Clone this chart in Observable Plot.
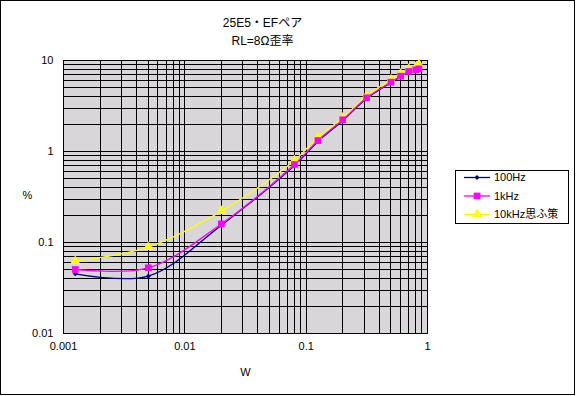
<!DOCTYPE html>
<html><head><meta charset="utf-8">
<script src="https://cdn.jsdelivr.net/npm/d3@7"></script>
<script src="https://cdn.jsdelivr.net/npm/@observablehq/plot@0.6"></script>
<style>
body{margin:0;background:#fff;}
svg{display:block;}
</style>
</head><body>
<div id="chart"></div>
<script>
const watts = [0.00125, 0.005, 0.02, 0.08, 0.125, 0.2, 0.315, 0.5, 0.6, 0.7, 0.8, 0.85];
const thd100 = [0.0453, 0.0427, 0.155, 0.70, 1.29, 2.18, 3.82, 5.7, 6.65, 7.5, 7.85, 8.05];
const thd1k  = [0.0505, 0.0527, 0.16, 0.72, 1.32, 2.23, 3.89, 5.78, 6.72, 7.57, 7.9, 8.1];
const thd10k = [0.0624, 0.089, 0.221, 0.796, 1.44, 2.34, 4.12, 6.14, 7.14, 8.1, 8.44, 9.03];
const seriesNames = ["100Hz", "1kHz", "10kHz思ふ策"];
const seriesColors = ["#000080", "#ff00ff", "#ffff00"];
const seriesSymbols = ["diamond2", "square", "triangle"];
const xTicks = [0.001, 0.01, 0.1, 1];
const xTickLabels = ["0.001", "0.01", "0.1", "1"];
const yTicks = [0.01, 0.1, 1, 10];
const yTickLabels = ["0.01", "0.1", "1", "10"];
const titleLines = ["25E5・EFペア", "RL=8Ω歪率"];
const xLabel = "W";
const yLabel = "%";

const decadesX = [0.001, 0.01, 0.1];
const decadesY = [0.01, 0.1, 1];
const mult = [1,2,3,4,5,6,7,8,9];
const xGrid = decadesX.flatMap(d => mult.map(m => d*m)).concat([1]);
const yGrid = decadesY.flatMap(d => mult.map(m => d*m)).concat([10]);

const allSeries = [thd100, thd1k, thd10k];
const rows = allSeries.flatMap((vals, s) => vals.map((v, i) => ({x: watts[i], y: v, s})));

const font = "'Liberation Sans', 'Noto Sans CJK JP', sans-serif";

const marks = [
  Plot.frame({fill: "url(#bgpat)"}),
  Plot.ruleX(xGrid, {x: d => d, stroke: "black", strokeWidth: 1, shapeRendering: "crispEdges"}),
  Plot.ruleY(yGrid, {y: d => d, stroke: "black", strokeWidth: 1, shapeRendering: "crispEdges"}),
  Plot.frame({stroke: "black", shapeRendering: "crispEdges"}),
];
// draw in order: 100Hz, 10kHz, then 1kHz so squares cover per reference
[0, 2, 1].forEach(s => {
  const d = rows.filter(r => r.s === s);
  marks.push(Plot.line(d, {x: "x", y: "y", stroke: seriesColors[s], strokeWidth: 1.3, curve: "catmull-rom"}));
});
[0, 2, 1].forEach(s => {
  const d = rows.filter(r => r.s === s);
  const r = s === 0 ? 2.3 : 3.8;
  marks.push(Plot.dot(d, {x: "x", y: "y", symbol: () => seriesSymbols[s], fill: seriesColors[s], stroke: "none", r}));
});
marks.push(
  Plot.text([titleLines[0]], {frameAnchor: "top", dx: 17, dy: -37, text: d => d, fontSize: 12, lineAnchor: "middle", fill: "black"}),
  Plot.text([titleLines[1]], {frameAnchor: "top", dx: 17, dy: -19, text: d => d, fontSize: 12, lineAnchor: "middle", fill: "black"}),
  Plot.text([xLabel], {frameAnchor: "bottom", dx: 0, dy: 39, text: d => d, fontSize: 11, lineAnchor: "middle", fill: "black"}),
  Plot.text([yLabel], {frameAnchor: "left", dx: -41, dy: -2, text: d => d, fontSize: 11, lineAnchor: "middle", fill: "black"})
);

const svg = Plot.plot({
  width: 576, height: 396,
  marginLeft: 63, marginRight: 149, marginTop: 60, marginBottom: 63,
  x: {type: "log", domain: [0.001, 1], ticks: xTicks, tickFormat: d => xTickLabels[xTicks.indexOf(d)], tickSize: 0, tickPadding: 9, label: null},
  y: {type: "log", domain: [0.01, 10], ticks: yTicks, tickFormat: d => yTickLabels[yTicks.indexOf(d)], tickSize: 0, tickPadding: 10, label: null},
  symbol: {type: "identity"},
  style: {fontFamily: font, fontSize: "11px", background: "white", color: "black"},
  marks
});

const sel = d3.select(svg);
const defs = sel.insert("defs", ":first-child");
const pat = defs.append("pattern").attr("id", "bgpat").attr("patternUnits", "userSpaceOnUse")
  .attr("width", 2).attr("height", 2);
pat.append("rect").attr("width", 2).attr("height", 2).attr("fill", "#eec8ee");
pat.append("rect").attr("x", 1).attr("y", 0).attr("width", 1).attr("height", 1).attr("fill", "#c4e4c4");
pat.append("rect").attr("x", 0).attr("y", 1).attr("width", 1).attr("height", 1).attr("fill", "#c4e4c4");

// outer border
sel.append("rect").attr("x", 0.5).attr("y", 0.5).attr("width", 574).attr("height", 394)
  .attr("fill", "none").attr("stroke", "black");

// legend
const lg = sel.append("g").attr("font-family", font).attr("font-size", 11).attr("text-anchor", "start");
lg.append("rect").attr("x", 455.5).attr("y", 170.5).attr("width", 113).attr("height", 53)
  .attr("fill", "white").attr("stroke", "black");
seriesNames.forEach((name, i) => {
  const y = 177.5 + i * 18.5;
  lg.append("line").attr("x1", 464).attr("x2", 490).attr("y1", y).attr("y2", y)
    .attr("stroke", seriesColors[i]).attr("stroke-width", 1.3);
  const symType = [d3.symbolDiamond2, d3.symbolSquare, d3.symbolTriangle][i];
  const rr = i === 0 ? 2.3 : 3.8;
  lg.append("path").attr("d", d3.symbol(symType, Math.PI * rr * rr)())
    .attr("transform", `translate(477,${y})`).attr("fill", seriesColors[i]);
  lg.append("text").attr("x", 494).attr("y", y).attr("dy", "0.35em").attr("fill", "black")
    .attr("text-anchor", "start").text(name);
});

document.getElementById("chart").appendChild(svg);
</script>
</body></html>
